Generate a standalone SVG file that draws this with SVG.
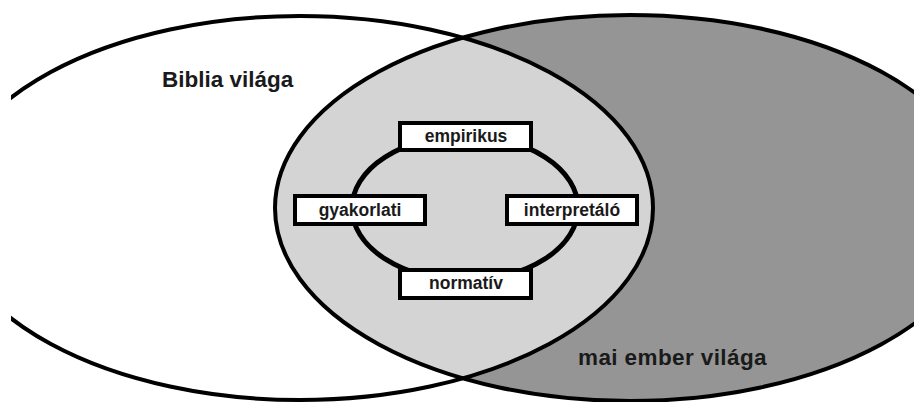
<svg xmlns="http://www.w3.org/2000/svg" width="914" height="402" viewBox="0 0 914 402">
  <style>
    .big { stroke: #000; stroke-width: 4; }
    .box { fill: #fff; stroke: #000; stroke-width: 4; }
    .lbl { font-family: "Liberation Sans", Arial, sans-serif; font-weight: bold; font-size: 17.5px; fill: #1a1a1a; text-anchor: middle; }
    .world { font-family: "Liberation Sans", Arial, sans-serif; font-weight: bold; font-size: 22.5px; fill: #1a1a1a; }
  </style>
  <defs>
    <clipPath id="clipRight">
      <ellipse cx="630" cy="208" rx="355" ry="193"/>
    </clipPath>
  </defs>
  <rect width="914" height="402" fill="#fff"/>
  <g id="worlds">
    <ellipse cx="630" cy="208" rx="355" ry="193" fill="#959595"/>
    <ellipse cx="300" cy="208" rx="353" ry="192" fill="#d4d4d4" clip-path="url(#clipRight)"/>
    <ellipse class="big" cx="300" cy="208" rx="353" ry="192" fill="none"/>
    <ellipse class="big" cx="630" cy="208" rx="355" ry="193" fill="none"/>
    <rect x="0" y="0" width="11" height="402" fill="#fff"/>
    <text class="world" x="162" y="87">Biblia világa</text>
    <text class="world" x="578" y="365" letter-spacing="0.4">mai ember világa</text>
  </g>
  <g id="connectors">
    <ellipse cx="465" cy="208" rx="113" ry="72" fill="none" stroke="#000" stroke-width="5"/>
  </g>
  <g id="empirikus">
    <rect class="box" x="400" y="123" width="131" height="27"/>
    <text class="lbl" x="466" y="142">empirikus</text>
  </g>
  <g id="gyakorlati">
    <rect class="box" x="295" y="196" width="130" height="28"/>
    <text class="lbl" x="360" y="216">gyakorlati</text>
  </g>
  <g id="interpretalo">
    <rect class="box" x="507" y="196" width="130" height="28"/>
    <text class="lbl" x="572" y="216">interpretáló</text>
  </g>
  <g id="normativ">
    <rect class="box" x="400" y="270" width="131" height="28"/>
    <text class="lbl" x="466" y="289">normatív</text>
  </g>
</svg>
